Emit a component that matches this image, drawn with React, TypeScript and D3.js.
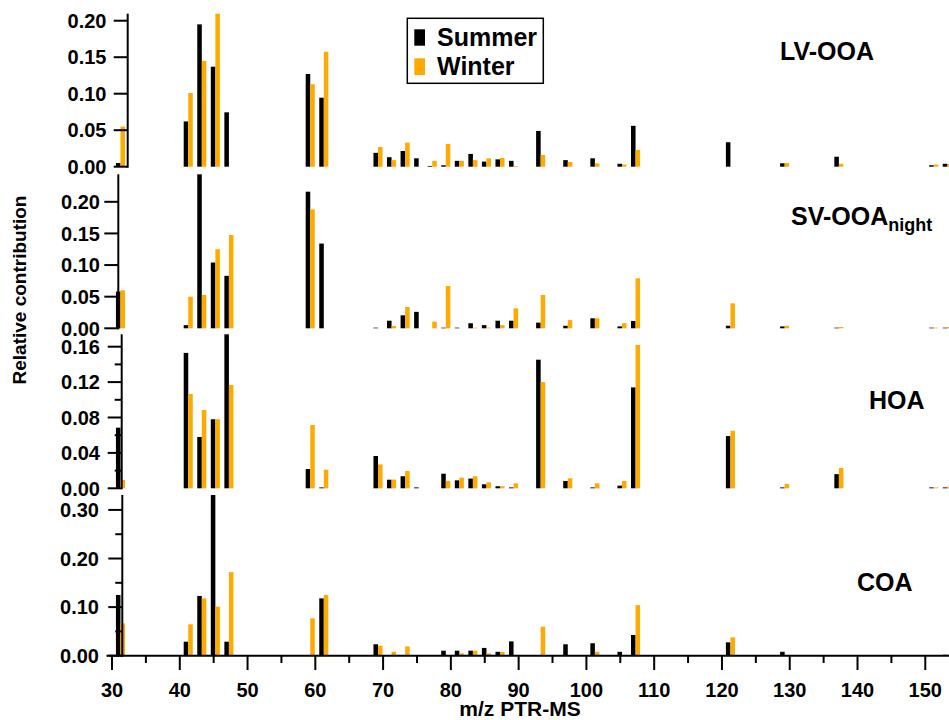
import React from 'react';
import * as d3 from 'd3';

// m/z values (PTR-MS)
const mz = [31, 41, 43, 45, 47, 59, 61, 69, 71, 73, 75, 77, 79, 81, 83, 85, 87, 89, 93, 97, 101, 105, 107, 121, 129, 137, 151, 153];

const lvSummer = [0.005, 0.062, 0.195, 0.137, 0.0745, 0.127, 0.0945, 0.019, 0.013, 0.0215, 0.0115, 0.001, 0.002, 0.008, 0.0175, 0.007, 0.010, 0.008, 0.049, 0.009, 0.0115, 0.004, 0.056, 0.0335, 0.0047, 0.0137, 0.002, 0.004];
const lvWinter = [0.055, 0.101, 0.145, 0.210, 0, 0.113, 0.1575, 0.027, 0.009, 0.033, 0, 0.008, 0.031, 0.008, 0.009, 0.0115, 0.012, 0.001, 0.016, 0.0065, 0.0045, 0.003, 0.023, 0, 0.005, 0.004, 0.003, 0.004];

const svSummer = [0.058, 0.005, 0.245, 0.104, 0.083, 0.216, 0.134, 0.001, 0.012, 0.0205, 0.026, 0, 0.001, 0.001, 0.008, 0.005, 0.012, 0.012, 0.009, 0.004, 0.0158, 0.003, 0.0116, 0.004, 0.003, 0.001, 0.001, 0.001];
const svWinter = [0.06, 0.05, 0.0527, 0.125, 0.1475, 0.188, 0, 0, 0.0037, 0.0337, 0, 0.0105, 0.067, 0, 0.001, 0.001, 0.005, 0.0316, 0.0527, 0.013, 0.0158, 0.008, 0.079, 0.0395, 0.004, 0.002, 0.001, 0.002];

const hoaSummer = [0.0685, 0.153, 0.058, 0.078, 0.174, 0.0218, 0.001, 0.0365, 0.0097, 0.0136, 0.001, 0, 0.0165, 0.009, 0.011, 0.0045, 0.0023, 0.001, 0.1453, 0.0083, 0.001, 0.003, 0.114, 0.059, 0.001, 0.016, 0.001, 0.001];
const hoaWinter = [0.0094, 0.1066, 0.0885, 0.078, 0.1167, 0.0715, 0.021, 0.027, 0.0099, 0.0195, 0, 0, 0.0083, 0.012, 0.0136, 0.0068, 0.0023, 0.0056, 0.120, 0.0113, 0.0056, 0.0083, 0.162, 0.065, 0.005, 0.023, 0.001, 0.002];

const coaSummer = [0.125, 0.0288, 0.123, 0.332, 0.0288, 0, 0.118, 0.0235, 0, 0, 0, 0.0014, 0.0103, 0.0103, 0.0103, 0.016, 0.008, 0.0295, 0, 0.0235, 0.0256, 0.008, 0.0426, 0.0275, 0.008, 0, 0.001, 0.002];
const coaWinter = [0.0666, 0.0646, 0.118, 0.101, 0.172, 0.077, 0.125, 0.0206, 0.0082, 0.019, 0, 0, 0, 0.0048, 0.0103, 0.0048, 0.008, 0, 0.0597, 0, 0.008, 0, 0.104, 0.0379, 0, 0.001, 0, 0];

const xTicks = [30, 40, 50, 60, 70, 80, 90, 100, 110, 120, 130, 140, 150];
const xMinorTicks = [35, 45, 55, 65, 75, 85, 95, 105, 115, 125, 135, 145];

const lvTicks = [0, 0.05, 0.10, 0.15, 0.20];
const svTicks = [0, 0.05, 0.10, 0.15, 0.20];
const hoaTicks = [0, 0.04, 0.08, 0.12, 0.16];
const hoaMinor = [0.02, 0.06, 0.10, 0.14];
const coaTicks = [0, 0.10, 0.20, 0.30];
const coaMinor = [0.05, 0.15, 0.25];

const seriesNames = ['Summer', 'Winter'];

const ORANGE = '#FFAA00';
const FONT = '"Liberation Sans", Arial, Helvetica, sans-serif';

const panels = [
  { name: 'LV-OOA', sub: '', summer: lvSummer, winter: lvWinter, max: 0.2096, y0: 166.7, top: 13.7, axisX: 127.7, labelX: 106.5, ticks: lvTicks, minor: [] as number[], lx: 780, ly: 60 },
  { name: 'SV-OOA', sub: 'night', summer: svSummer, winter: svWinter, max: 0.2435, y0: 328.3, top: 174.3, axisX: 118.3, labelX: 100, ticks: svTicks, minor: [] as number[], lx: 791, ly: 225 },
  { name: 'HOA', sub: '', summer: hoaSummer, winter: hoaWinter, max: 0.174, y0: 488.3, top: 334.3, axisX: 121.7, labelX: 100, ticks: hoaTicks, minor: hoaMinor, lx: 869, ly: 409 },
  { name: 'COA', sub: '', summer: coaSummer, winter: coaWinter, max: 0.3307, y0: 655.7, top: 495, axisX: 122.3, labelX: 99, ticks: coaTicks, minor: coaMinor, lx: 857, ly: 590.7 },
];

export default function App() {
  const x = d3.scaleLinear().domain([30, 153.5]).range([112, 949]);
  const fmt = d3.format('.2f');

  return (
    <svg width={949} height={720} style={{ position: 'absolute', left: 0, top: 0, background: '#fff' }} fontFamily={FONT} fontWeight="bold">
      <rect x={0} y={0} width={949} height={720} fill="#fff" />
      {panels.map((p, pi) => {
        const y = d3.scaleLinear().domain([0, p.max]).range([p.y0, p.top]).clamp(true);
        return (
          <g key={pi}>
            {mz.map((m, i) => {
              const s = p.summer[i];
              const w = p.winter[i];
              const bx0 = x(m - 0.42), bx1 = x(m + 0.25), ox1 = x(m + 0.92);
              return (
                <g key={i}>
                  {s > 0 && <rect x={bx0} y={y(s)} width={bx1 - bx0} height={p.y0 - y(s)} fill="#000" />}
                  {w > 0 && <rect x={bx1} y={y(w)} width={ox1 - bx1} height={p.y0 - y(w)} fill={ORANGE} />}
                </g>
              );
            })}
            <line x1={p.axisX} x2={p.axisX} y1={p.top} y2={p.y0 + 1} stroke="#000" strokeWidth={2} />
            {p.ticks.map((t, ti) => (
              <g key={ti}>
                <line x1={p.axisX - 14} x2={p.axisX} y1={y(t)} y2={y(t)} stroke="#000" strokeWidth={2} />
                <text x={p.labelX} y={y(t)} dy="0.36em" textAnchor="end" fontSize={20}>{fmt(t)}</text>
              </g>
            ))}
            {p.minor.map((t, ti) => (
              <line key={ti} x1={p.axisX - 7} x2={p.axisX} y1={y(t)} y2={y(t)} stroke="#000" strokeWidth={2} />
            ))}
            <text x={p.lx} y={p.ly} fontSize={25}>
              {p.name}
              {p.sub && <tspan fontSize={18} dy={6}>{p.sub}</tspan>}
            </text>
          </g>
        );
      })}
      {/* x axis */}
      <line x1={106.5} x2={949} y1={655.7} y2={655.7} stroke="#000" strokeWidth={2} />
      {xTicks.map((t) => (
        <g key={t}>
          <line x1={x(t)} x2={x(t)} y1={655.7} y2={670} stroke="#000" strokeWidth={2} />
          <text x={x(t)} y={697.3} textAnchor="middle" fontSize={20}>{t}</text>
        </g>
      ))}
      {xMinorTicks.map((t) => (
        <line key={t} x1={x(t)} x2={x(t)} y1={655.7} y2={663} stroke="#000" strokeWidth={2} />
      ))}
      <text x={520} y={716} textAnchor="middle" fontSize={21}>m/z PTR-MS</text>
      <text transform="translate(19,290) rotate(-90)" textAnchor="middle" dy="0.36em" fontSize={19}>Relative contribution</text>
      {/* legend */}
      <rect x={407.3} y={18.3} width={136} height={65} fill="#fff" stroke="#000" strokeWidth={1.5} />
      <rect x={414.3} y={29.3} width={10.7} height={16.4} fill="#000" />
      <rect x={414.3} y={58.3} width={10.7} height={16.7} fill={ORANGE} />
      <text x={437} y={46} fontSize={25}>{seriesNames[0]}</text>
      <text x={437} y={75} fontSize={25}>{seriesNames[1]}</text>
    </svg>
  );
}
